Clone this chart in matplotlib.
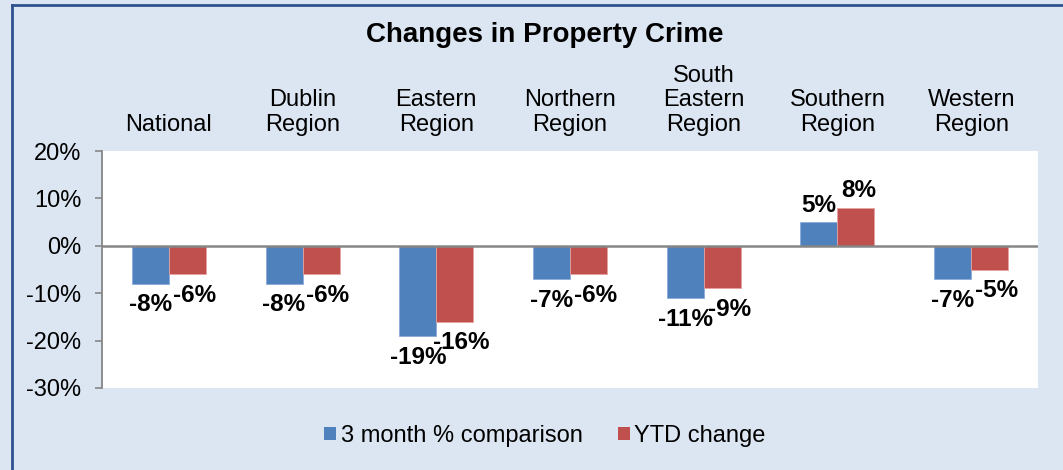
import numpy as np
import matplotlib
matplotlib.use("Agg")
import matplotlib.pyplot as plt
from matplotlib.lines import Line2D
from matplotlib.patches import Patch

plt.rcParams['font.family'] = ['Liberation Sans', 'DejaVu Sans']

# data
regions = ["National", "Dublin\nRegion", "Eastern\nRegion", "Northern\nRegion",
           "South\nEastern\nRegion", "Southern\nRegion", "Western\nRegion"]
three_month = [-8, -8, -19, -7, -11, 5, -7]
ytd = [-6, -6, -16, -6, -9, 8, -5]
series_names = ["3 month % comparison", "YTD change"]

blue = "#4F81BD"
red = "#C0504D"
bg = "#DCE6F2"
grey = "#868686"

fig = plt.figure(figsize=(10.63, 4.70), dpi=100)
fig.patch.set_facecolor(bg)
ax = fig.add_axes([102 / 1063, 82 / 470, 936 / 1063, 237 / 470])
ax.set_facecolor("white")

x = np.arange(len(regions))
w = 0.277
b1 = ax.bar(x - w / 2, three_month, w, color=blue, edgecolor="#8EAADB", linewidth=0.6, zorder=2)
b2 = ax.bar(x + w / 2, ytd, w, color=red, edgecolor="#E6A3A1", linewidth=0.6, zorder=2)

ax.set_xlim(-0.5, len(regions) - 0.5)
ax.set_ylim(-30, 20)
ax.set_yticks(np.arange(-30, 21, 10))
ax.set_yticklabels([f"{v}%" for v in range(-30, 21, 10)])
ax.tick_params(axis="y", direction="out", length=5, width=1.2, color=grey,
               pad=10, labelsize=17)
ax.set_xticks([])
for s in ["top", "right", "bottom"]:
    ax.spines[s].set_visible(False)
ax.spines["left"].set_color(grey)
ax.spines["left"].set_linewidth(1.3)
ax.axhline(0, color=grey, lw=1.8, zorder=3)

# value labels
for bars, vals, dx in [(b1, three_month, 0), (b2, ytd, 5)]:
    for rect, v in zip(bars, vals):
        cx = rect.get_x() + rect.get_width() / 2
        if v < 0:
            ax.annotate(f"{v}%", (cx, v), xytext=(dx, -7), textcoords="offset points",
                        ha="center", va="top", fontsize=17.5, fontweight="bold")
        else:
            ax.annotate(f"{v}%", (cx, v), xytext=(dx * 0.4, 4), textcoords="offset points",
                        ha="center", va="bottom", fontsize=17.5, fontweight="bold")

# category labels above the plot
for xi, name in zip(x, regions):
    ax.annotate(name, (xi, 1), xycoords=("data", "axes fraction"), xytext=(0, 11),
                textcoords="offset points", ha="center", va="bottom",
                multialignment="center", fontsize=17, linespacing=1.15)

fig.text(545 / 1063, 1 - 42 / 470, "Changes in Property Crime", ha="center",
         va="baseline", fontsize=20, fontweight="bold")

handles = [Patch(facecolor=blue), Patch(facecolor=red)]
fig.legend(handles, series_names, loc="center", bbox_to_anchor=(545 / 1063, 1 - 436 / 470),
           ncol=2, frameon=False, fontsize=17, handlelength=0.5, handleheight=0.5,
           handletextpad=0.2, columnspacing=1.5)

# chart border (left and top edges visible)
fig.add_artist(Line2D([11.5 / 1063, 11.5 / 1063], [0, 1 - 4.5 / 470], color="#2F528F",
                      lw=2, transform=fig.transFigure))
fig.add_artist(Line2D([11.5 / 1063, 1], [1 - 4.5 / 470, 1 - 4.5 / 470], color="#2F528F",
                      lw=2, transform=fig.transFigure))

fig.savefig("out.png", dpi=100, facecolor=fig.get_facecolor())
